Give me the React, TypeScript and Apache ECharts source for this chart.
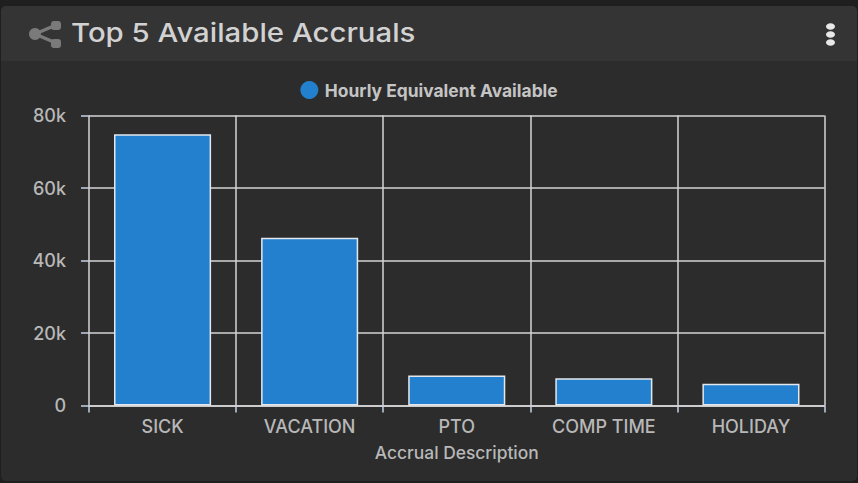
import React, { useEffect, useRef } from "react";
import * as echarts from "echarts";

const categories = ["SICK", "VACATION", "PTO", "COMP TIME", "HOLIDAY"];
const seriesName = "Hourly Equivalent Available";
const values = [74800, 46300, 8300, 7500, 6000];
const yTicks = ["0", "20k", "40k", "60k", "80k"];
const titleText = "Top 5 Available Accruals";
const xAxisTitle = "Accrual Description";

export default function App() {
  const ref = useRef<HTMLDivElement>(null);
  useEffect(() => {
    document.body.style.margin = "0";
    document.body.style.background = "#1f1f1f";
    const chart = echarts.init(ref.current!, undefined, { renderer: "svg" });
    const textFont = "Inter, 'Liberation Sans', sans-serif";
    const iconColor = "#7a7a7a";
    chart.setOption({
      animation: false,
      backgroundColor: "#1f1f1f",
      textStyle: { fontFamily: textFont },
      graphic: [
        { type: "rect", z: -10, shape: { x: 1, y: 6, width: 856, height: 475, r: 5 }, style: { fill: "#2c2c2c" } },
        { type: "rect", z: -9, shape: { x: 1, y: 6, width: 856, height: 55, r: [5, 5, 0, 0] }, style: { fill: "#343434" } },
        { type: "line", shape: { x1: 35, y1: 34, x2: 56, y2: 25 }, style: { stroke: iconColor, lineWidth: 3.5 } },
        { type: "line", shape: { x1: 35, y1: 34, x2: 56, y2: 43 }, style: { stroke: iconColor, lineWidth: 3.5 } },
        { type: "circle", shape: { cx: 35, cy: 34, r: 6 }, style: { fill: iconColor } },
        { type: "rect", shape: { x: 51, y: 21, width: 10, height: 9, r: 3 }, style: { fill: iconColor } },
        { type: "rect", shape: { x: 51, y: 39, width: 10, height: 9, r: 3 }, style: { fill: iconColor } },
        { type: "text", x: 71, y: 33, scaleX: 1.13, style: { text: titleText, fill: "#d2d2d2", font: `500 26px ${textFont}`, verticalAlign: "middle" } },
        { type: "ellipse", shape: { cx: 830.5, cy: 26.5, rx: 4.5, ry: 3.3 }, style: { fill: "#e8e8e8" } },
        { type: "ellipse", shape: { cx: 830.5, cy: 34.5, rx: 4.5, ry: 3.3 }, style: { fill: "#e8e8e8" } },
        { type: "ellipse", shape: { cx: 830.5, cy: 42.5, rx: 4.5, ry: 3.3 }, style: { fill: "#e8e8e8" } },
      ],
      legend: {
        top: 76,
        left: "center",
        icon: "circle",
        itemWidth: 19,
        itemHeight: 18,
        itemGap: 0,
        itemStyle: { borderWidth: 0 },
        textStyle: { color: "#c4c4c4", fontSize: 17.4, fontWeight: 700, fontFamily: textFont, padding: [0, 0, 0, 1] },
        data: [seriesName],
      },
      grid: { left: 89, right: 33.5, top: 115.5, bottom: 77.5, containLabel: false },
      xAxis: {
        type: "category",
        data: categories,
        name: xAxisTitle,
        nameLocation: "middle",
        nameGap: 38,
        nameTextStyle: { color: "#b8b8b8", fontSize: 17.4, fontWeight: 500, fontFamily: textFont },
        axisLine: { show: true, lineStyle: { color: "#d8d8d8", width: 1.5 } },
        axisTick: { show: true, alignWithLabel: false, length: 7, lineStyle: { color: "#c6d2e6", width: 1.5 } },
        axisLabel: { color: "#b8b8b8", fontSize: 18, fontWeight: 500, margin: 12, fontFamily: textFont, interval: 0 },
        splitLine: { show: true, lineStyle: { color: "#d4d4d4", width: 1.5 } },
      },
      yAxis: {
        type: "value",
        min: 0,
        max: 80000,
        interval: 20000,
        axisLine: { show: false },
        axisTick: { show: true, length: 8, lineStyle: { color: "#c6d2e6", width: 1.5 } },
        axisLabel: {
          color: "#b8b8b8",
          fontSize: 18,
          fontWeight: 500,
          margin: 23,
          fontFamily: textFont,
          formatter: (v: number) => yTicks[v / 20000],
        },
        splitLine: { show: true, lineStyle: { color: "#d4d4d4", width: 1.5 } },
      },
      series: [
        {
          type: "bar",
          name: seriesName,
          data: values,
          barWidth: "66%",
          itemStyle: { color: "#2280cf", borderColor: "#e4e8ec", borderWidth: 1.5 },
        },
      ],
    });
    return () => chart.dispose();
  }, []);
  return <div ref={ref} style={{ width: 858, height: 483 }} />;
}
